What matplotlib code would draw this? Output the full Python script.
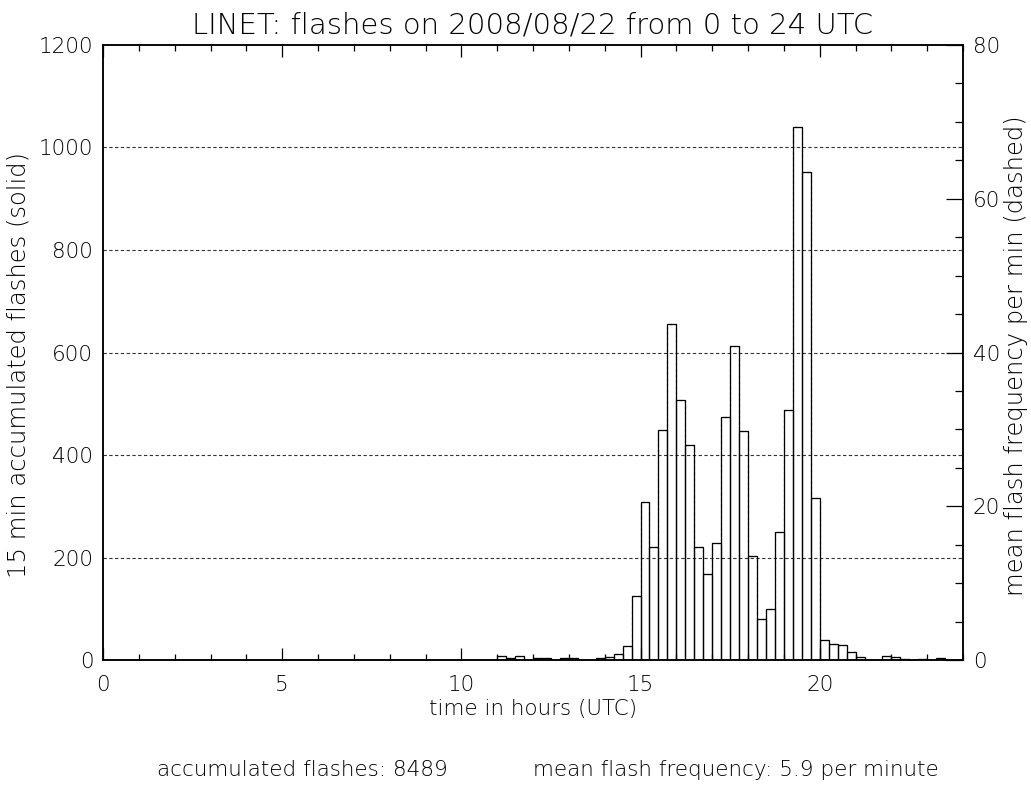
import numpy as np
import matplotlib
matplotlib.use("Agg")
import matplotlib.pyplot as plt
from matplotlib.ticker import MultipleLocator

# 15 min flash counts, 96 bins from 0 to 24 UTC
counts = [0] * 44 + [
    8, 3, 7, 1,            # 11:00
    3, 3, 1, 3,            # 12:00
    3, 1, 1, 3,            # 13:00
    5, 11, 28, 125,        # 14:00
    309, 220, 449, 655,    # 15:00
    508, 420, 220, 167,    # 16:00
    228, 475, 612, 447,    # 17:00
    202, 81, 99, 249,      # 18:00
    488, 1039, 952, 316,   # 19:00
    40, 31, 29, 16,        # 20:00
    5, 1, 1, 8,            # 21:00
    5, 2, 1, 2,            # 22:00
    1, 3, 1, 1,            # 23:00
]
bin_hours = 0.25
total_flashes = 8489
mean_freq = 5.9

title = "LINET: flashes on 2008/08/22 from 0 to 24 UTC"

plt.rcParams['font.family'] = ['DejaVu Sans']
plt.rcParams['font.weight'] = 'light'
plt.rcParams['axes.titleweight'] = 'light'
plt.rcParams['axes.labelweight'] = 'light'
fs = 15.5
fs_lab = 17.5

counts = np.array(counts, dtype=float)
edges = np.arange(len(counts) + 1) * bin_hours

fig = plt.figure(figsize=(10.31, 7.85), dpi=100)
ax = fig.add_axes([0.0999, 0.1592, 0.8342, 0.7835])

# solid histogram: accumulated flashes per 15 min
ax.bar(edges[:-1], counts, width=bin_hours, align='edge', fill=False,
       edgecolor='black', linewidth=0.9)

ax.set_xlim(0, 24)
ax.set_ylim(0, 1200)
ax.set_yticks(np.arange(0, 1201, 200))
for yv in range(200, 1200, 200):
    ax.axhline(yv, color='#333333', linewidth=0.8, linestyle=(0, (3, 2.2)),
               zorder=0)

ax.xaxis.set_minor_locator(MultipleLocator(1))
ax.set_xticks([0, 5, 10, 15, 20])
ax.tick_params(axis='x', which='major', direction='in', length=8.5, width=0.9,
               top=True, pad=11, labelsize=fs)
ax.tick_params(axis='x', which='minor', direction='in', length=4.3, width=0.9,
               top=True)
ax.tick_params(axis='y', which='both', length=0, pad=7, labelsize=fs,
               right=False)

for s in ax.spines.values():
    s.set_linewidth(1.1)

ax.set_xlabel("time in hours (UTC)", fontsize=fs, labelpad=3)
ax.set_ylabel("15 min accumulated flashes (solid)", fontsize=fs_lab)
ax.yaxis.set_label_coords(-0.084, 0.48)
ax.set_title(title, fontsize=21, pad=8)

# dashed curve: mean flash frequency per minute
ax2 = ax.twinx()
ax2.stairs(counts / 15.0, edges, color='black', linewidth=0.8,
           linestyle=(0, (3, 2.2)))
ax2.set_ylim(0, 80)
ax2.yaxis.set_major_locator(MultipleLocator(20))
ax2.yaxis.set_minor_locator(MultipleLocator(5))
ax2.tick_params(axis='y', which='major', direction='in', length=12, width=0.9,
                pad=7, labelsize=fs)
ax2.tick_params(axis='y', which='minor', direction='in', length=6, width=0.9)
ax2.set_ylabel("mean flash frequency per min (dashed)", fontsize=fs_lab)
ax2.yaxis.set_label_coords(1.048, 0.495)
for s in ax2.spines.values():
    s.set_linewidth(1.1)

fig.text(0.152, 0.019, f"accumulated flashes: {total_flashes}", fontsize=fs,
         va='center', ha='left')
fig.text(0.517, 0.019, f"mean flash frequency: {mean_freq} per minute",
         fontsize=fs, va='center', ha='left')

fig.savefig("out.png", dpi=100)
